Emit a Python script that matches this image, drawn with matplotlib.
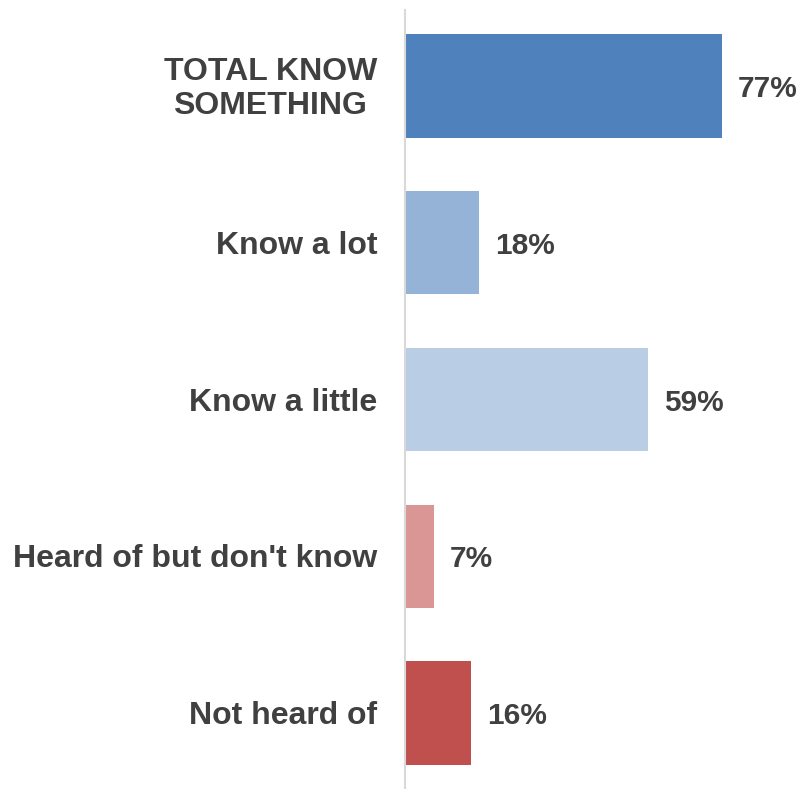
import matplotlib
matplotlib.use('Agg')
import matplotlib.pyplot as plt

# Data
categories = ['TOTAL KNOW\nSOMETHING', 'Know a lot', 'Know a little',
              "Heard of but don't know", 'Not heard of']
values = [77, 18, 59, 7, 16]
colors = ['#4f81bd', '#95b3d7', '#b9cde5', '#d99694', '#c0504d']

plt.rcParams['font.family'] = ['Liberation Sans', 'DejaVu Sans']

fig = plt.figure(figsize=(7.98, 7.89), dpi=100)
ax = fig.add_axes([405 / 798, 0, 393 / 798, 779 / 789])

y = list(range(len(values)))
ax.barh(y, values, height=0.66, color=colors)
ax.set_xlim(0, 95.5)
ax.set_ylim(len(values) - 0.516, -0.484)

for yi, v in zip(y, values):
    ax.text(v + 3.9, yi + 0.02, f'{v}%', va='center', ha='left',
            fontsize=21.5, fontweight='bold', color='#404040')

for yi, c in zip(y, categories):
    ax.text(-6.8, yi + 0.02, c, va='center', ha='right', fontsize=23,
            fontweight='bold', color='#404040', linespacing=1.15,
            multialignment='center')

for s in ['top', 'right', 'bottom']:
    ax.spines[s].set_visible(False)
ax.spines['left'].set_color('#d9d9d9')
ax.spines['left'].set_linewidth(1.5)
ax.set_xticks([])
ax.set_yticks([])

fig.savefig('out.png', dpi=100)
